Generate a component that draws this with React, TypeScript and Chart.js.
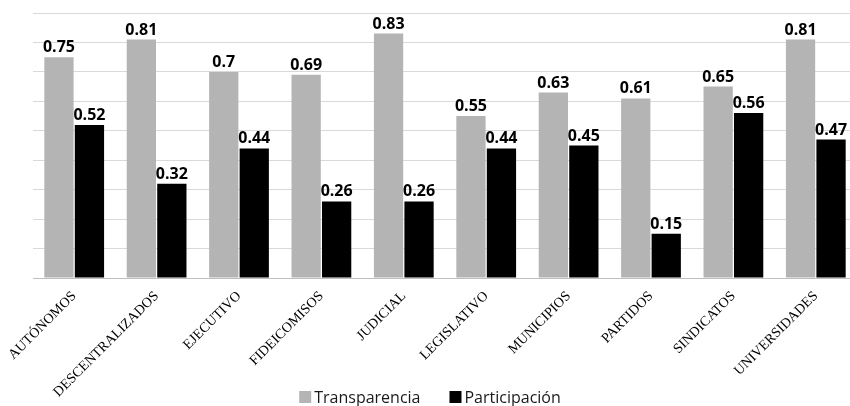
import React, { useEffect, useRef } from "react";
import { Chart, registerables } from "chart.js";
Chart.register(...registerables);

const categories = ["AUTÓNOMOS", "DESCENTRALIZADOS", "EJECUTIVO", "FIDEICOMISOS", "JUDICIAL", "LEGISLATIVO", "MUNICIPIOS", "PARTIDOS", "SINDICATOS", "UNIVERSIDADES"];
const transparencia = [0.75, 0.81, 0.7, 0.69, 0.83, 0.55, 0.63, 0.61, 0.65, 0.81];
const participacion = [0.52, 0.32, 0.44, 0.26, 0.26, 0.44, 0.45, 0.15, 0.56, 0.47];
const seriesNames = ["Transparencia", "Participación"];
const seriesColors = ["#b4b4b4", "#000000"];

const valueLabels = {
  id: "valueLabels",
  afterDatasetsDraw(chart: any) {
    const ctx = chart.ctx;
    ctx.save();
    ctx.font = "bold 16px 'Open Sans'";
    ctx.fillStyle = "#000000";
    ctx.textAlign = "center";
    ctx.textBaseline = "alphabetic";
    chart.data.datasets.forEach((ds: any, i: number) => {
      const meta = chart.getDatasetMeta(i);
      meta.data.forEach((el: any, j: number) => {
        ctx.fillText(String(ds.data[j]), el.x, el.y - 5);
      });
    });
    ctx.restore();
  },
};

const bottomLegend = {
  id: "bottomLegend",
  afterDraw(chart: any) {
    const ctx = chart.ctx;
    ctx.save();
    ctx.font = "16px 'Open Sans'";
    ctx.textBaseline = "alphabetic";
    ctx.textAlign = "left";
    const box = 12, gap = 3, spacing = 29, cx = 430, baseline = 403;
    const widths = chart.data.datasets.map((d: any) => ctx.measureText(d.label).width);
    const total = widths.reduce((a: number, w: number) => a + box + gap + w, 0) + spacing * (widths.length - 1);
    let x = cx - total / 2;
    chart.data.datasets.forEach((d: any, i: number) => {
      ctx.fillStyle = d.backgroundColor;
      ctx.fillRect(x, baseline - box, box, box);
      x += box + gap;
      ctx.fillStyle = "#1a1a1a";
      ctx.fillText(d.label, x, baseline);
      x += widths[i] + spacing;
    });
    ctx.restore();
  },
};

export default function App() {
  const ref = useRef<HTMLCanvasElement>(null);
  useEffect(() => {
    const chart = new Chart(ref.current!, {
      type: "bar",
      data: {
        labels: categories,
        datasets: [
          { label: seriesNames[0], data: transparencia, backgroundColor: seriesColors[0], categoryPercentage: 0.74, barPercentage: 0.96 },
          { label: seriesNames[1], data: participacion, backgroundColor: seriesColors[1], categoryPercentage: 0.74, barPercentage: 0.96 },
        ],
      },
      options: {
        responsive: false,
        animation: false,
        layout: { padding: { left: 33, right: 0, top: 13, bottom: 0 } },
        plugins: {
          tooltip: { enabled: false },
          legend: { display: false },
        },
        scales: {
          x: {
            grid: { display: false },
            border: { display: true, color: "#bfbfbf" },
            ticks: {
              minRotation: 45,
              maxRotation: 45,
              color: "#000000",
              font: { family: "'Liberation Serif'", size: 14 },
              padding: 2,
            },
            afterFit: (s: any) => { s.height = 128; },
          },
          y: {
            min: 0,
            max: 0.9,
            ticks: { display: false, stepSize: 0.1 },
            grid: { color: "#d9d9d9", drawTicks: false },
            border: { display: false },
            afterFit: (s: any) => { s.width = 0; },
          },
        },
      },
      plugins: [valueLabels, bottomLegend],
    });
    return () => chart.destroy();
  }, []);
  return (
    <div style={{ position: "fixed", left: 0, top: 0, width: 850, height: 406, overflow: "hidden", background: "#fff" }}>
      <canvas ref={ref} width={857} height={406} style={{ display: "block" }} />
    </div>
  );
}
